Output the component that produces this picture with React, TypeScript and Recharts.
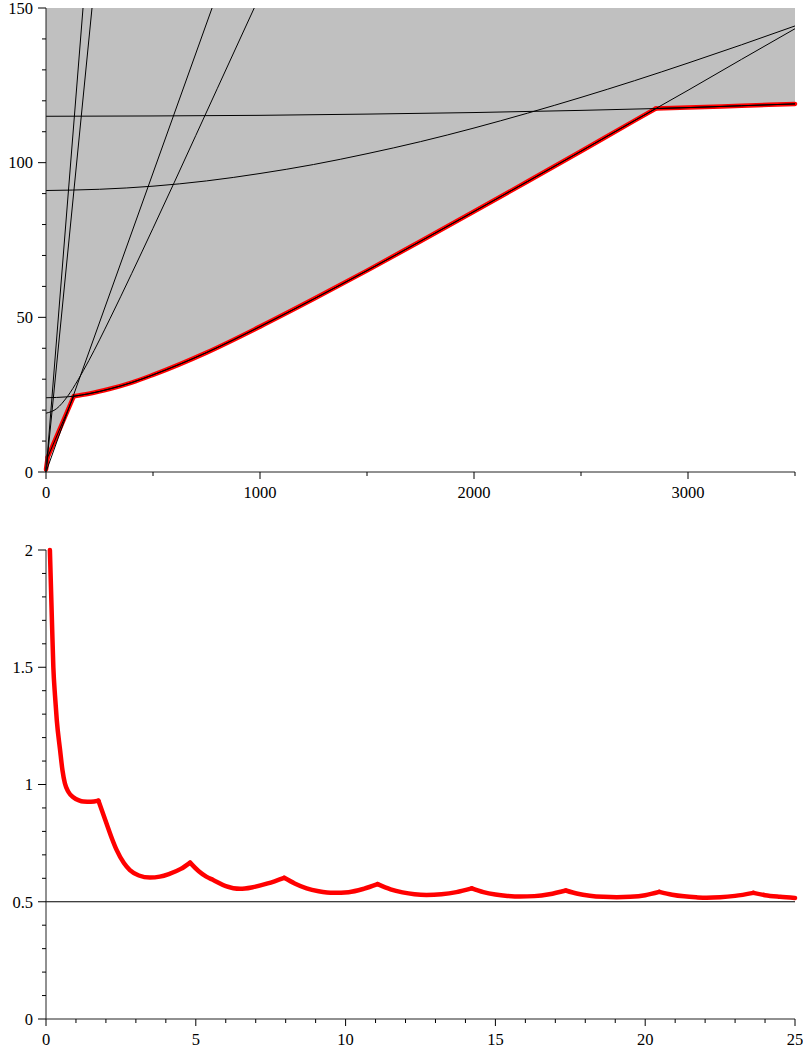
import React from 'react';
import { ComposedChart, Line, Area, XAxis, YAxis, ReferenceLine } from 'recharts';

const FONT = '"Liberation Serif", "Times New Roman", "DejaVu Serif", serif';

// ---------- Top chart data ----------
const topXTicks = [0, 500, 1000, 1500, 2000, 2500, 3000, 3500];
const topXMajor = [0, 1000, 2000, 3000];
const topYTicks = [0, 10, 20, 30, 40, 50, 60, 70, 80, 90, 100, 110, 120, 130, 140, 150];
const topYMajor = [0, 50, 100, 150];

// lower envelope (red boundary of the grey region)
const envelopeX = [0, 8, 130, 200, 300, 400, 500, 750, 1000, 1250, 1500, 1750, 2000, 2250, 2500, 2750, 2850, 3000, 3250, 3500];
const envelopeY = [0.8, 4.8, 24.5, 25.3, 26.9, 28.9, 31.4, 38.6, 47.0, 55.9, 65.1, 74.6, 84.2, 93.9, 103.7, 113.6, 117.5, 117.8, 118.4, 119.0];
const envelopeKinks = [8, 130, 2850];

// black curves
const lineAX = [0, 173];
const lineAY = [0, 150];
const lineBX = [0, 215];
const lineBY = [0, 150];
const lineDX = [0, 776];
const lineDY = [0, 150];
const curve19X = [0, 50, 100, 150, 200, 300, 400, 500, 600, 700, 800, 900, 973];
const curve19Y = [19.0, 20.5, 24.4, 29.8, 36.0, 49.7, 64.1, 78.8, 93.7, 108.8, 123.9, 139.0, 150];
const curve24X = [0, 50, 100, 130, 200, 300, 400, 500, 750, 1000, 1250, 1500, 1750, 2000, 2250, 2500, 2750, 3000, 3250, 3500];
const curve24Y = [24.0, 24.1, 24.3, 24.5, 25.3, 26.9, 28.9, 31.4, 38.6, 47.0, 55.9, 65.1, 74.6, 84.2, 93.9, 103.7, 113.6, 123.4, 133.4, 143.3];
const curve91X = [0, 250, 500, 750, 1000, 1250, 1500, 1750, 2000, 2250, 2500, 2750, 3000, 3250, 3500];
const curve91Y = [91.0, 91.4, 92.4, 94.1, 96.5, 99.4, 102.9, 106.8, 111.2, 116.0, 121.1, 126.5, 132.2, 138.1, 144.2];
const curve115X = [0, 500, 1000, 1500, 2000, 2500, 2850, 3000, 3250, 3500];
const curve115Y = [115.0, 115.1, 115.3, 115.7, 116.2, 116.9, 117.5, 117.8, 118.4, 119.0];

// ---------- Bottom chart data ----------
const botXTicks = Array.from({ length: 26 }, (_, i) => i);
const botXMajor = [0, 5, 10, 15, 20, 25];
const botYTicks = Array.from({ length: 21 }, (_, i) => Math.round(i) / 10);
const botYMajor = [0, 0.5, 1, 1.5, 2];
const botYLabels = ['0', '0.5', '1', '1.5', '2'];
const asymptote = 0.5;

const ratioX = [0.13, 0.2, 0.245, 0.3, 0.36, 0.47, 0.55, 0.63, 0.75, 0.91, 1.1, 1.25, 1.5, 1.75,
  2.02, 2.2, 2.36, 2.6, 2.8, 3.1, 3.47, 3.8, 4.1, 4.5, 4.81,
  5.1, 5.35, 5.58, 6.0, 6.48, 6.9, 7.4, 7.95,
  8.3, 8.7, 9.1, 9.6, 10.1, 10.6, 11.07,
  11.5, 11.9, 12.3, 12.7, 13.2, 13.7, 14.21,
  14.6, 15.0, 15.4, 15.82, 16.3, 16.8, 17.35,
  17.75, 18.15, 18.6, 19.05, 19.5, 20.0, 20.47,
  20.9, 21.3, 21.7, 22.05, 22.5, 23.0, 23.61,
  24.0, 24.5, 25.0];
const ratioY = [2.0, 1.69, 1.5, 1.38, 1.274, 1.147, 1.06, 1.005, 0.968, 0.946, 0.932, 0.927, 0.926, 0.931,
  0.834, 0.77, 0.72, 0.665, 0.635, 0.612, 0.603, 0.607, 0.618, 0.64, 0.667,
  0.63, 0.607, 0.593, 0.567, 0.555, 0.562, 0.578, 0.602,
  0.578, 0.557, 0.545, 0.538, 0.541, 0.555, 0.575,
  0.553, 0.54, 0.532, 0.529, 0.532, 0.541, 0.557,
  0.541, 0.531, 0.525, 0.522, 0.524, 0.532, 0.548,
  0.534, 0.526, 0.521, 0.519, 0.521, 0.528, 0.542,
  0.53, 0.523, 0.519, 0.517, 0.519, 0.525, 0.538,
  0.528, 0.521, 0.516];
const kinkX = [1.75, 4.81, 7.95, 11.07, 14.21, 17.35, 20.47, 23.61];

// ---------- helpers ----------
type Pt = { x: number; y: number };
const zip = (xs: number[], ys: number[]): Pt[] => xs.map((x, i) => ({ x, y: ys[i] }));
const isIn = (arr: number[], v: number) => arr.some((m) => Math.abs(m - v) < 1e-9);

// split a polyline at its corner points: each piece is smooth, the corners stay sharp
const splitAt = (pts: Pt[], kinks: number[]): Pt[][] => {
  const out: Pt[][] = [];
  let cur: Pt[] = [];
  pts.forEach((p) => {
    cur.push(p);
    if (isIn(kinks, p.x)) {
      out.push(cur);
      cur = [p];
    }
  });
  if (cur.length > 1) out.push(cur);
  return out;
};

const envelopeData = envelopeX.map((x, i) => ({ x, y: envelopeY[i], band: [envelopeY[i], 150] }));
const envelopeSegments = splitAt(zip(envelopeX, envelopeY), envelopeKinks);
const ratioSegments = splitAt(zip(ratioX, ratioY), kinkX);

const Y_TICK = 8;
const Y_MARGIN = 5;
const X_TICK = 8;
const X_MARGIN = 6;

const textStyle: React.CSSProperties = { fontFamily: FONT, fontSize: '16.5px' };

const makeYTick = (major: number[], label: (v: number) => string) => (props: any) => {
  const { x, y, payload } = props;
  const v = payload.value;
  const big = isIn(major, v);
  const ax = x + Y_TICK + Y_MARGIN;
  return (
    <g>
      <line x1={ax - (big ? 8 : 4)} x2={ax} y1={y} y2={y} stroke="#000" strokeWidth={1} />
      {big && (
        <text x={x} y={y} dy="0.35em" textAnchor="end" fontFamily={FONT} style={textStyle} fill="#000" stroke="none">
          {label(v)}
        </text>
      )}
    </g>
  );
};

const makeXTick = (major: number[], label: (v: number) => string) => (props: any) => {
  const { x, y, payload } = props;
  const v = payload.value;
  const big = isIn(major, v);
  const ay = y - X_TICK - X_MARGIN;
  return (
    <g>
      <line x1={x} x2={x} y1={ay} y2={ay + (big ? 7 : 4)} stroke="#000" strokeWidth={1} />
      {big && (
        <text x={x} y={y} dy="0.71em" textAnchor="middle" fontFamily={FONT} style={textStyle} fill="#000" stroke="none">
          {label(v)}
        </text>
      )}
    </g>
  );
};

const blackCurves: { d: Pt[]; smooth: boolean }[] = [
  { d: zip(lineAX, lineAY), smooth: false },
  { d: zip(lineBX, lineBY), smooth: false },
  { d: zip(lineDX, lineDY), smooth: false },
  { d: zip(curve19X, curve19Y), smooth: true },
  { d: zip(curve24X, curve24Y), smooth: true },
  { d: zip(curve91X, curve91Y), smooth: true },
  { d: zip(curve115X, curve115Y), smooth: true },
  ...envelopeSegments.map((d) => ({ d, smooth: true })),
];

export default function App() {
  return (
    <div style={{ position: 'absolute', left: 0, top: 0, width: 803, height: 1048, background: '#fff', fontFamily: FONT }}>
      <div style={{ position: 'absolute', left: 0, top: 0 }}>
        <ComposedChart width={803} height={501} data={envelopeData} margin={{ top: 8, right: 8, bottom: 0, left: 0 }}>
          <XAxis
            dataKey="x"
            type="number"
            domain={[0, 3500]}
            ticks={topXTicks}
            interval={0}
            height={29}
            tickSize={X_TICK}
            tickMargin={X_MARGIN}
            tickLine={false}
            axisLine={{ stroke: '#222' }}
            tick={makeXTick(topXMajor, (v) => String(v))}
          />
          <YAxis
            type="number"
            domain={[0, 150]}
            ticks={topYTicks}
            interval={0}
            width={46}
            tickSize={Y_TICK}
            tickMargin={Y_MARGIN}
            tickLine={false}
            axisLine={{ stroke: '#222' }}
            tick={makeYTick(topYMajor, (v) => String(v))}
          />
          <Area
            dataKey="band"
            type="linear"
            fill="#C0C0C0"
            fillOpacity={1}
            stroke="none"
            isAnimationActive={false}
            dot={false}
            activeDot={false}
          />
          {envelopeSegments.map((d, i) => (
            <Line
              key={'r' + i}
              data={d}
              dataKey="y"
              type="monotone"
              stroke="#FF0000"
              strokeWidth={4.5}
              strokeLinejoin="round"
              strokeLinecap="round"
              dot={false}
              activeDot={false}
              isAnimationActive={false}
            />
          ))}
          {blackCurves.map((c, i) => (
            <Line
              key={'k' + i}
              data={c.d}
              dataKey="y"
              type={c.smooth ? 'monotone' : 'linear'}
              stroke="#000"
              strokeWidth={1}
              dot={false}
              activeDot={false}
              isAnimationActive={false}
            />
          ))}
        </ComposedChart>
      </div>
      <div style={{ position: 'absolute', left: 0, top: 520 }}>
        <ComposedChart width={803} height={528} margin={{ top: 30, right: 8, bottom: 0, left: 0 }}>
          <XAxis
            dataKey="x"
            type="number"
            domain={[0, 25]}
            ticks={botXTicks}
            interval={0}
            height={29}
            tickSize={X_TICK}
            tickMargin={X_MARGIN}
            tickLine={false}
            axisLine={{ stroke: '#222' }}
            tick={makeXTick(botXMajor, (v) => String(v))}
          />
          <YAxis
            type="number"
            domain={[0, 2]}
            ticks={botYTicks}
            interval={0}
            width={46}
            tickSize={Y_TICK}
            tickMargin={Y_MARGIN}
            tickLine={false}
            axisLine={{ stroke: '#222' }}
            tick={makeYTick(botYMajor, (v) => botYLabels[botYMajor.findIndex((m) => Math.abs(m - v) < 1e-9)])}
          />
          <ReferenceLine y={asymptote} stroke="#000" strokeWidth={1} />
          {ratioSegments.map((seg, i) => (
            <Line
              key={i}
              data={seg}
              dataKey="y"
              type="monotone"
              stroke="#FF0000"
              strokeWidth={4.5}
              strokeLinejoin="round"
              strokeLinecap="round"
              dot={false}
              activeDot={false}
              isAnimationActive={false}
            />
          ))}
        </ComposedChart>
      </div>
    </div>
  );
}
